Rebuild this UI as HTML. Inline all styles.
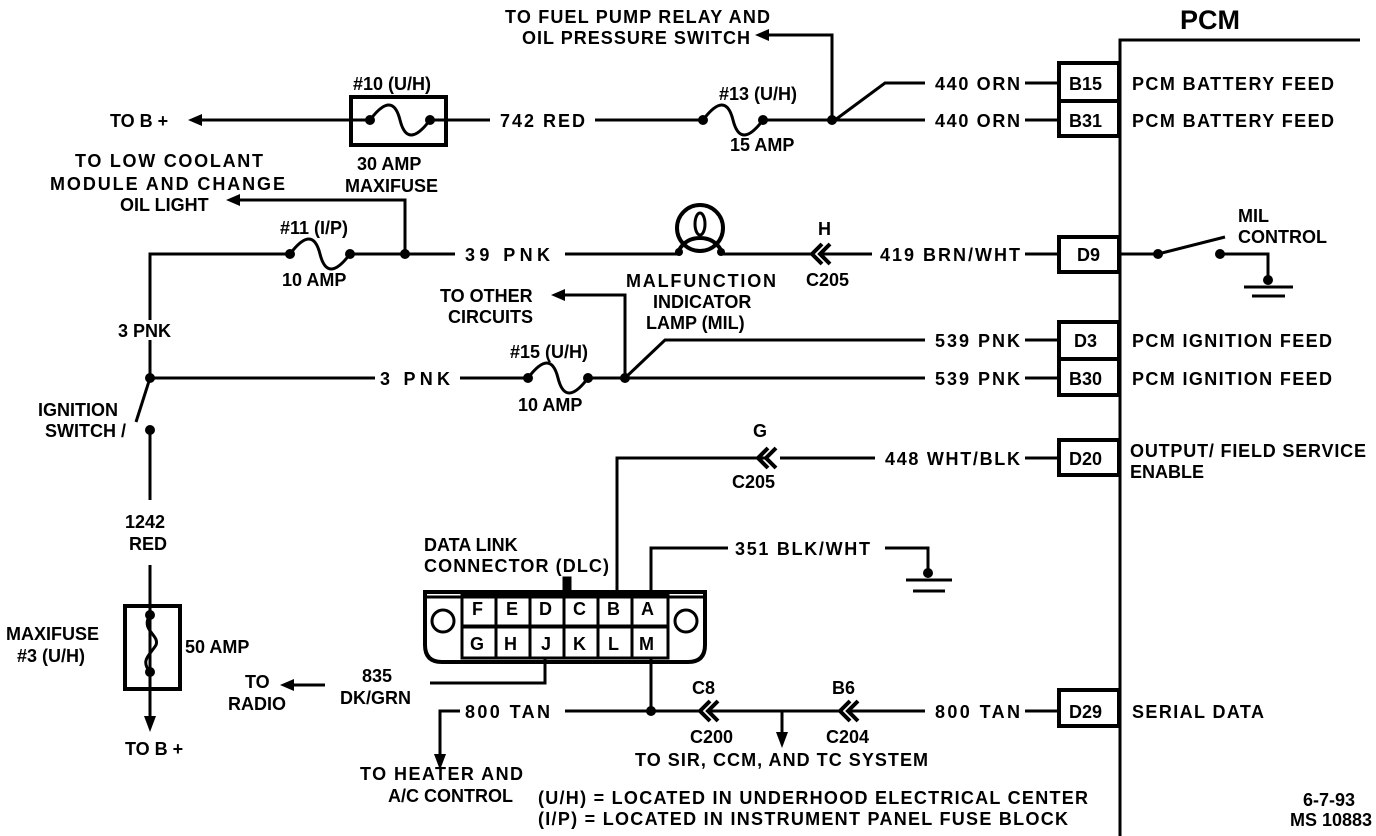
<!DOCTYPE html>
<html><head><meta charset="utf-8"><style>
html,body{margin:0;padding:0;background:#fff;}
svg{display:block;}
text{font-family:"Liberation Sans",sans-serif;font-weight:bold;font-size:18px;fill:#000;}
</style></head><body>
<svg width="1376" height="836" viewBox="0 0 1376 836" xmlns="http://www.w3.org/2000/svg">
<g stroke="#000" stroke-width="3" fill="none">
<path d="M1120 836 V40 H1360"/>
<rect x="1059" y="63" width="60" height="73" stroke-width="4"/>
<line x1="1059" y1="101" x2="1119" y2="101" stroke-width="4"/>
<rect x="1059" y="237" width="60" height="35" stroke-width="4"/>
<rect x="1059" y="322" width="60" height="73" stroke-width="4"/>
<line x1="1059" y1="359" x2="1119" y2="359" stroke-width="4"/>
<rect x="1059" y="440" width="60" height="35" stroke-width="4"/>
<rect x="1059" y="690" width="60" height="36" stroke-width="4"/>
<path d="M835 120 L885 83 H925"/><path d="M1025 83 H1059"/>
<path d="M450 120 H490"/><path d="M595 120 H703"/><path d="M763 120 H925"/><path d="M1025 120 H1059"/>
<path d="M832 120 V35 H765"/>
<rect x="351" y="97" width="95" height="48" stroke-width="4"/>
<path d="M195 120 H370"/><path d="M430 120 H450"/>
<path d="M370 120 C385 100,395 100,400 120 C405 140,415 140,430 120"/>
<path d="M703 120 C718 100,728 100,733 120 C738 140,748 140,763 120"/>
<path d="M1119 254 H1158 L1225 237"/><path d="M1220 254 H1268 V282"/>
<path d="M1244 287 H1293 M1252 296 H1285"/>
<path d="M1025 254 H1059"/><path d="M820 254 H872"/><path d="M812 254 H722"/>
<path d="M565 254 H679"/><path d="M405 254 H455"/><path d="M350 254 H405"/>
<path d="M405 254 V200 H235"/>
<path d="M150 320 V254 H290"/>
<path d="M290 254 C305 234,315 234,320 254 C325 274,335 274,350 254"/>
<circle cx="700" cy="228" r="23" stroke-width="4"/>
<path d="M679 250 Q686 238 700 238 Q714 238 721 250" stroke-width="4"/>
<ellipse cx="700" cy="224" rx="5" ry="11"/>
<path d="M150 340 V378 H375"/><path d="M460 378 H528"/><path d="M588 378 H925"/><path d="M1025 378 H1059"/>
<path d="M528 378 C543 358,553 358,558 378 C563 398,573 398,588 378"/>
<path d="M625 378 L665 340 H925"/><path d="M1025 340 H1059"/>
<path d="M625 378 V295 H560"/>
<path d="M150 378 L136 422"/>
<path d="M150 430 V500"/><path d="M150 565 V720"/>
<rect x="125" y="606" width="55" height="83" stroke-width="4"/>
<path d="M150 615 C140 630,160 635,156 645 C150 655,140 660,150 672"/>
<path d="M1025 458 H1059"/><path d="M780 458 H875"/><path d="M768 458 H617 V593"/>
<path d="M651 593 V548 H728"/><path d="M885 548 H928 V572"/>
<path d="M906 580 H952 M913 591 H945"/>
<path d="M425 592 H705 V645 Q705 662 688 662 H442 Q425 662 425 645 Z" stroke-width="4"/>
<line x1="425" y1="597" x2="705" y2="597"/>
<rect x="462" y="595" width="206" height="31"/>
<rect x="462" y="627" width="206" height="31"/>
<path d="M496 595 V658 M530 595 V658 M564 595 V658 M598 595 V658 M632 595 V658"/>
<circle cx="443" cy="621" r="11"/><circle cx="686" cy="621" r="11"/>
<rect x="564" y="578" width="6" height="14" fill="#000"/>
<path d="M545 658 V683 H430"/>
<path d="M325 685 H290"/>
<path d="M651 658 V711"/>
<path d="M565 711 H700"/><path d="M710 711 H840"/><path d="M850 711 H925"/><path d="M1025 711 H1059"/>
<path d="M460 711 H440 V760"/>
<path d="M782 711 V740"/>
</g>
<g fill="#000" stroke="none">
<circle cx="370" cy="120" r="5"/><circle cx="430" cy="120" r="5"/>
<circle cx="703" cy="120" r="5"/><circle cx="763" cy="120" r="5"/>
<circle cx="832" cy="120" r="5"/>
<circle cx="290" cy="254" r="5"/><circle cx="350" cy="254" r="5"/><circle cx="405" cy="254" r="5"/>
<circle cx="679" cy="252" r="4"/><circle cx="721" cy="252" r="4"/>
<circle cx="1158" cy="254" r="5"/><circle cx="1220" cy="254" r="5"/><circle cx="1268" cy="280" r="5"/>
<circle cx="150" cy="378" r="5"/><circle cx="150" cy="430" r="5"/>
<circle cx="528" cy="378" r="5"/><circle cx="588" cy="378" r="5"/><circle cx="625" cy="378" r="5"/>
<circle cx="150" cy="615" r="5"/><circle cx="150" cy="672" r="5"/>
<circle cx="928" cy="573" r="5"/>
<circle cx="651" cy="711" r="5"/>
<path d="M188 120 L202 114 L202 126Z"/>
<path d="M755 35 L769 29 L769 41Z"/>
<path d="M226 200 L240 194 L240 206Z"/>
<path d="M551 295 L565 289 L565 301Z"/>
<path d="M150 732 L144 716 L156 716Z"/>
<path d="M280 685 L294 679 L294 691Z"/>
<path d="M440 770 L434 754 L446 754Z"/>
<path d="M782 748 L776 732 L788 732Z"/>
</g>
<g stroke="#000" stroke-width="4" fill="none">
<path d="M822 244 L812 254 L822 264 M830 244 L820 254 L830 264"/>
<path d="M768 448 L758 458 L768 468 M776 448 L766 458 L776 468"/>
<path d="M710 701 L700 711 L710 721 M718 701 L708 711 L718 721"/>
<path d="M850 701 L840 711 L850 721 M858 701 L848 711 L858 721"/>
</g>
<text x="1180" y="29" style="font-size:27px">PCM</text>
<text x="505" y="23" textLength="265">TO FUEL PUMP RELAY AND</text>
<text x="522" y="44" textLength="228">OIL PRESSURE SWITCH</text>
<text x="353" y="90">#10 (U/H)</text>
<text x="110" y="127">TO B +</text>
<text x="500" y="127" textLength="85">742 RED</text>
<text x="719" y="100">#13 (U/H)</text>
<text x="730" y="151">15 AMP</text>
<text x="357" y="170">30 AMP</text>
<text x="345" y="192">MAXIFUSE</text>
<text x="935" y="90" textLength="85">440 ORN</text>
<text x="935" y="127" textLength="85">440 ORN</text>
<text x="1069" y="90">B15</text>
<text x="1069" y="127">B31</text>
<text x="1132" y="90" textLength="202">PCM BATTERY FEED</text>
<text x="1132" y="127" textLength="202">PCM BATTERY FEED</text>
<text x="75" y="167" textLength="188">TO LOW COOLANT</text>
<text x="50" y="190" textLength="235">MODULE AND CHANGE</text>
<text x="120" y="211">OIL LIGHT</text>
<text x="280" y="234">#11 (I/P)</text>
<text x="282" y="286">10 AMP</text>
<text x="465" y="261" textLength="85">39 PNK</text>
<text x="818" y="235">H</text>
<text x="806" y="286">C205</text>
<text x="880" y="261" textLength="140">419 BRN/WHT</text>
<text x="1077" y="261">D9</text>
<text x="1238" y="222">MIL</text>
<text x="1238" y="243">CONTROL</text>
<text x="626" y="287" textLength="150">MALFUNCTION</text>
<text x="653" y="308">INDICATOR</text>
<text x="646" y="329">LAMP (MIL)</text>
<text x="440" y="302">TO OTHER</text>
<text x="448" y="323">CIRCUITS</text>
<text x="118" y="337">3 PNK</text>
<text x="380" y="385" textLength="70">3 PNK</text>
<text x="510" y="358">#15 (U/H)</text>
<text x="518" y="411">10 AMP</text>
<text x="935" y="347" textLength="85">539 PNK</text>
<text x="935" y="385" textLength="85">539 PNK</text>
<text x="1074" y="347">D3</text>
<text x="1069" y="385">B30</text>
<text x="1132" y="347" textLength="200">PCM IGNITION FEED</text>
<text x="1132" y="385" textLength="200">PCM IGNITION FEED</text>
<text x="38" y="416">IGNITION</text>
<text x="45" y="437">SWITCH /</text>
<text x="753" y="437">G</text>
<text x="732" y="488">C205</text>
<text x="885" y="465" textLength="135">448 WHT/BLK</text>
<text x="1069" y="465">D20</text>
<text x="1130" y="457" textLength="236">OUTPUT/ FIELD SERVICE</text>
<text x="1130" y="478">ENABLE</text>
<text x="125" y="528">1242</text>
<text x="129" y="550">RED</text>
<text x="424" y="551">DATA LINK</text>
<text x="424" y="572" textLength="185">CONNECTOR (DLC)</text>
<text x="735" y="555" textLength="135">351 BLK/WHT</text>
<text x="472" y="615">F</text><text x="506" y="615">E</text><text x="539" y="615">D</text><text x="573" y="615">C</text><text x="607" y="615">B</text><text x="641" y="615">A</text>
<text x="470" y="650">G</text><text x="504" y="650">H</text><text x="541" y="650">J</text><text x="573" y="650">K</text><text x="608" y="650">L</text><text x="639" y="650">M</text>
<text x="6" y="640">MAXIFUSE</text>
<text x="17" y="662">#3 (U/H)</text>
<text x="185" y="653">50 AMP</text>
<text x="245" y="688">TO</text>
<text x="228" y="710">RADIO</text>
<text x="362" y="682">835</text>
<text x="340" y="704">DK/GRN</text>
<text x="465" y="718" textLength="85">800 TAN</text>
<text x="692" y="694">C8</text>
<text x="690" y="743">C200</text>
<text x="832" y="694">B6</text>
<text x="826" y="743">C204</text>
<text x="935" y="718" textLength="85">800 TAN</text>
<text x="1069" y="718">D29</text>
<text x="1132" y="718" textLength="132">SERIAL DATA</text>
<text x="635" y="766" textLength="293">TO SIR, CCM, AND TC SYSTEM</text>
<text x="125" y="755">TO B +</text>
<text x="360" y="780" textLength="163">TO HEATER AND</text>
<text x="388" y="802">A/C CONTROL</text>
<text x="538" y="804" textLength="550">(U/H)  =  LOCATED IN UNDERHOOD ELECTRICAL CENTER</text>
<text x="538" y="825" textLength="530">(I/P)  =  LOCATED IN INSTRUMENT PANEL FUSE BLOCK</text>
<text x="1303" y="806">6-7-93</text>
<text x="1290" y="826">MS 10883</text>
</svg>
</body></html>
